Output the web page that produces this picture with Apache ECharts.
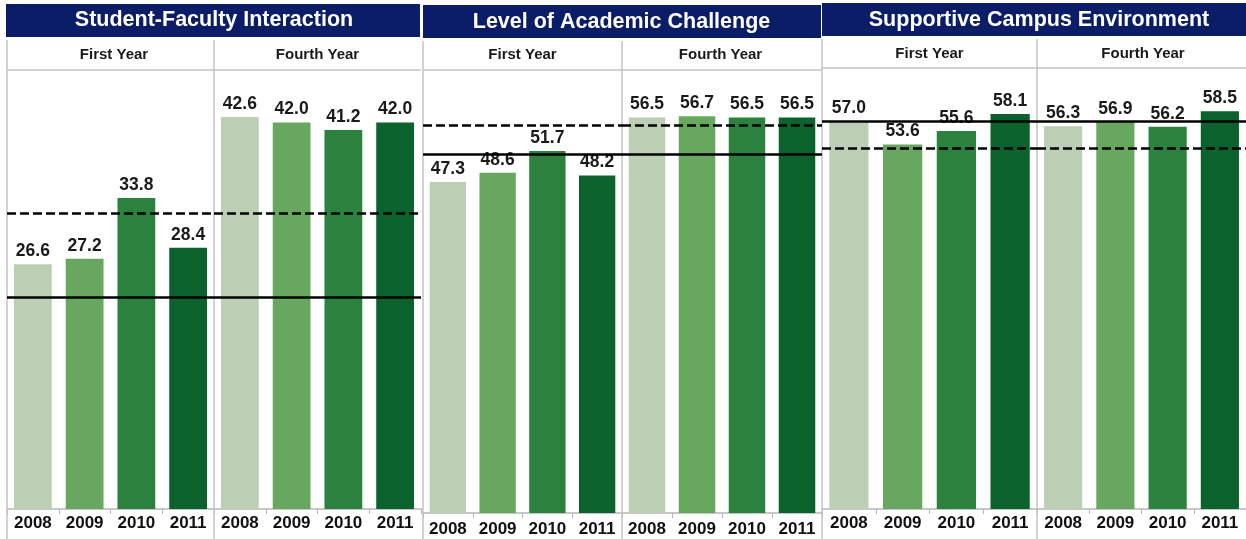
<!DOCTYPE html>
<html>
<head>
<meta charset="utf-8">
<script src="https://cdn.jsdelivr.net/npm/echarts@6/dist/echarts.min.js"></script>
<style>
html,body{margin:0;padding:0;background:#fff;}
#chart{width:1246px;height:539px;}
</style>
</head>
<body>
<div id="chart"></div>
<script>
// ---- data ----
const years = ['2008', '2009', '2010', '2011'];
const panelTitles = ['Student-Faculty Interaction', 'Level of Academic Challenge', 'Supportive Campus Environment'];
const groupLabels = ['First Year', 'Fourth Year'];
const sfiFirst = [26.6, 27.2, 33.8, 28.4];
const sfiFourth = [42.6, 42.0, 41.2, 42.0];
const lacFirst = [47.3, 48.6, 51.7, 48.2];
const lacFourth = [56.5, 56.7, 56.5, 56.5];
const sceFirst = [57.0, 53.6, 55.6, 58.1];
const sceFourth = [56.3, 56.9, 56.2, 58.5];
const solidRef = [23.0, 51.2, 57.0];
const dashedRef = [32.2, 55.4, 53.0];

// ---- styling / layout ----
const barColors = ['#bccfb4', '#68a760', '#2a823e', '#0b622c'];
const navy = '#0b1d66';
const borderGray = '#c3c3c3';
const FONT = '"Liberation Sans", Arial, sans-serif';

const panels = [
  { series: [sfiFirst, sfiFourth], x0: 7, mid: 214, x1: 421, tx0: 6, tx1: 420, tTop: 4, tBot: 37, tcx: 214, tcy: 20.5,
    subCx: [114, 317.5], subCy: 55, subLine: 70, base: 509, yMax: 47.72, lblMargin: 6 },
  { series: [lacFirst, lacFourth], x0: 423, mid: 622, x1: 822, tx0: 423, tx1: 821, tTop: 5, tBot: 38, tcx: 621.5, tcy: 22,
    subCx: [522.5, 720.5], subCy: 55, subLine: 70, base: 513, yMax: 63.29, lblMargin: 8 },
  { series: [sceFirst, sceFourth], x0: 822, mid: 1037, x1: 1250, tx0: 822, tx1: 1246, tTop: 3, tBot: 36, tcx: 1039, tcy: 20.5,
    subCx: [929.5, 1143], subCy: 53.5, subLine: 68, base: 509, yMax: 64.85, lblMargin: 6 }
];

const grid = [], xAxis = [], yAxis = [], series = [], graphic = [];

panels.forEach((p, pi) => {
  // title bar
  graphic.push({ type: 'rect', shape: { x: p.tx0, y: p.tTop, width: p.tx1 - p.tx0, height: p.tBot - p.tTop },
    style: { fill: navy }, z: 1 });
  graphic.push({ type: 'text', x: p.tcx, y: p.tcy, z: 2,
    style: { text: panelTitles[pi], fill: '#ffffff', font: 'bold 21.5px ' + FONT, align: 'center', verticalAlign: 'middle' } });
  // sub headers
  groupLabels.forEach((g, gi) => {
    graphic.push({ type: 'text', x: p.subCx[gi], y: p.subCy, z: 2,
      style: { text: g, fill: '#1a1a1a', font: 'bold 15px ' + FONT, align: 'center', verticalAlign: 'middle' } });
  });
  // borders
  const lineTop = p.tBot + 3;
  [p.x0, p.mid].forEach(x => {
    graphic.push({ type: 'line', shape: { x1: x, y1: lineTop, x2: x, y2: 539 },
      style: { stroke: borderGray, lineWidth: 1.5 }, z: 1 });
  });
  graphic.push({ type: 'line', shape: { x1: p.x0, y1: p.subLine, x2: Math.min(p.x1, 1246), y2: p.subLine },
    style: { stroke: borderGray, lineWidth: 1.5 }, z: 1 });

  // two sub-grids
  [[p.x0, p.mid], [p.mid, p.x1]].forEach((range, gi) => {
    const idx = grid.length;
    grid.push({ left: range[0], top: p.subLine, width: range[1] - range[0], height: p.base - p.subLine, containLabel: false });
    xAxis.push({
      type: 'category', gridIndex: idx, data: years,
      axisLine: { show: true, lineStyle: { color: '#b5b5b5', width: 1.5 } },
      axisTick: { show: true, length: 5, lineStyle: { color: '#b5b5b5' } },
      axisLabel: { color: '#111', fontFamily: FONT, fontWeight: 'bold', fontSize: 17, margin: p.lblMargin }
    });
    yAxis.push({ type: 'value', gridIndex: idx, min: 0, max: p.yMax, show: false, splitLine: { show: false } });
    series.push({
      type: 'bar', xAxisIndex: idx, yAxisIndex: idx,
      barCategoryGap: '27%',
      data: p.series[gi].map((v, i) => ({ value: v, itemStyle: { color: barColors[i] } })),
      label: { show: true, position: 'top', distance: 4, color: '#1a1a1a', fontFamily: FONT, fontWeight: 'bold', fontSize: 17.5,
        formatter: d => d.value.toFixed(1) },
      markLine: {
        silent: true, symbol: 'none', animation: false, label: { show: false },
        data: [
          { yAxis: solidRef[pi], lineStyle: { color: '#000', width: 2.5, type: 'solid' } },
          { yAxis: dashedRef[pi], lineStyle: { color: '#000', width: 2.5, type: [9, 4] } }
        ]
      }
    });
  });
});

const chart = echarts.init(document.getElementById('chart'));
chart.setOption({
  animation: false,
  backgroundColor: '#ffffff',
  grid, xAxis, yAxis, series, graphic
});
</script>
</body>
</html>
